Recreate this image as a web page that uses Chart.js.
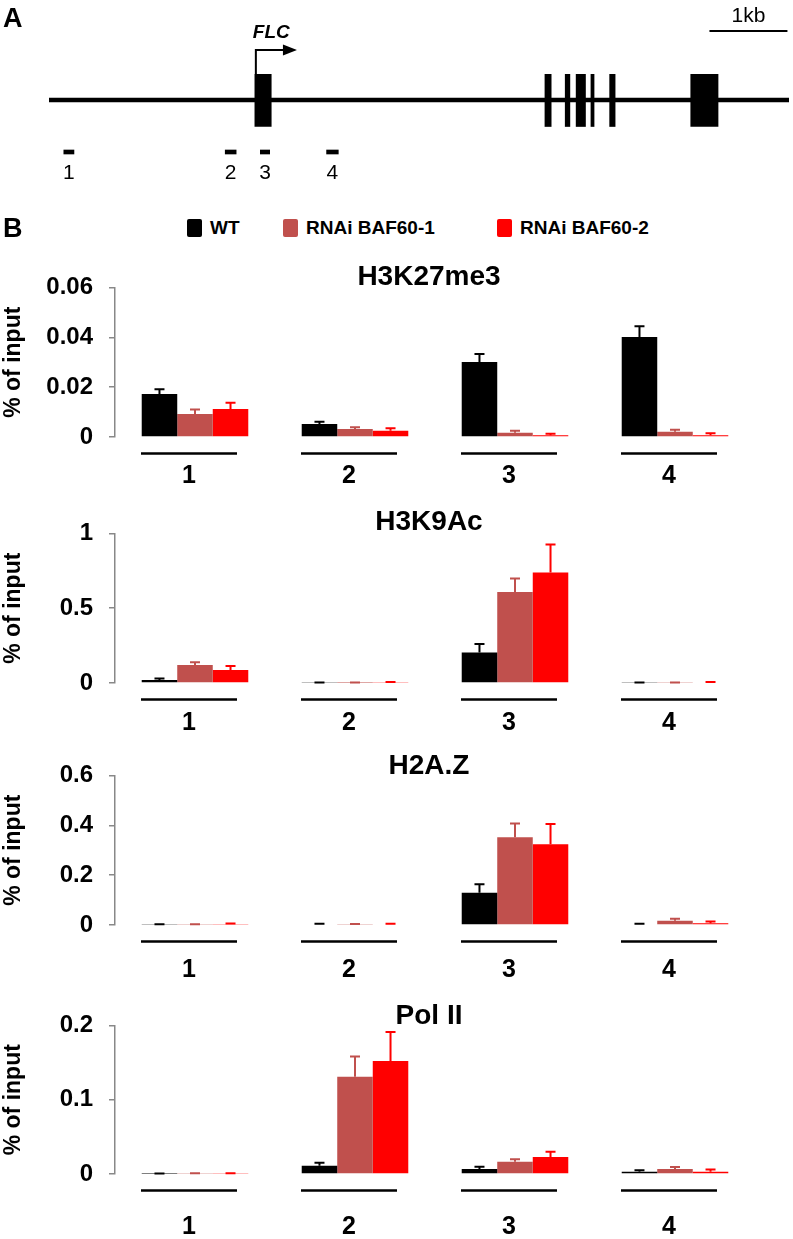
<!DOCTYPE html>
<html>
<head>
<meta charset="utf-8">
<script src="https://cdn.jsdelivr.net/npm/chart.js@4.4.1/dist/chart.umd.min.js"></script>
<style>
  body { margin: 0; width: 793px; height: 1239px; position: relative; overflow: hidden; background: #fff;
         font-family: 'Liberation Sans', Arial, sans-serif; }
  .box { position: absolute; left: 0; }
  .txt { position: absolute; color: #000; font-weight: bold; white-space: nowrap; z-index: 2; }
  .title { transform: translate(-50%, -50%); font-size: 28px; }
  .legend-item { position: absolute; top: 219px; height: 18px; display: flex; align-items: center;
                 font-weight: bold; font-size: 19px; white-space: nowrap; }
  .legend-item span.sw { display: inline-block; width: 15px; height: 18px; border-radius: 2px; margin-right: 8px; }
</style>
</head>
<body>
<div class="txt" style="left:3px;top:3px;font-size:27px">A</div>
<div class="txt" style="left:3px;top:213px;font-size:27px">B</div>
<div id="legend"></div>

<div class="box" style="top:0"><canvas id="gene" width="793" height="200"></canvas></div>
<div class="box" style="top:257px"><canvas id="c1" width="793" height="240"></canvas></div>
<div class="box" style="top:503px"><canvas id="c2" width="793" height="240"></canvas></div>
<div class="box" style="top:745px"><canvas id="c3" width="793" height="240"></canvas></div>
<div class="box" style="top:995px"><canvas id="c4" width="793" height="249"></canvas></div>

<div class="txt title" style="left:429px;top:276px">H3K27me3</div>
<div class="txt title" style="left:429px;top:521px">H3K9Ac</div>
<div class="txt title" style="left:429px;top:765px">H2A.Z</div>
<div class="txt title" style="left:429px;top:1015px">Pol II</div>

<script>
// ---- panel A: FLC locus (positions in kb from the left end of the line)
const geneLength = 9.49;
const exons = [[2.64, 2.85], [6.36, 6.44], [6.62, 6.68], [6.76, 6.88], [6.95, 6.99], [7.19, 7.26], [8.23, 8.58]];
const probes = [[0.19, 0.32], [2.26, 2.40], [2.71, 2.83], [3.56, 3.71]];
const tss = 2.64;
const arrowEnd = 3.18;
const scaleBar = [8.47, 9.47];

// ---- panel B: ChIP, % of input
const categories = ['1', '2', '3', '4'];
const seriesNames = ['WT', 'RNAi BAF60-1', 'RNAi BAF60-2'];
const seriesColors = ['#000000', '#c0504d', '#ff0000'];

const h3k27WT = [0.0172, 0.0052, 0.0301, 0.0401];
const h3k27B1 = [0.0092, 0.0032, 0.0017, 0.0021];
const h3k27B2 = [0.0112, 0.0025, 0.0007, 0.0007];
const h3k27WTErr = [0.0020, 0.0009, 0.0032, 0.0043];
const h3k27B1Err = [0.0018, 0.0007, 0.0008, 0.0008];
const h3k27B2Err = [0.0025, 0.0010, 0.0006, 0.0008];
const h3k27Ticks = [0, 0.02, 0.04, 0.06];

const h3k9WT = [0.020, 0.003, 0.204, 0.003];
const h3k9B1 = [0.120, 0.002, 0.609, 0.003];
const h3k9B2 = [0.087, 0.004, 0.738, 0.005];
const h3k9WTErr = [0.010, 0.001, 0.056, 0.001];
const h3k9B1Err = [0.018, 0.001, 0.089, 0.001];
const h3k9B2Err = [0.026, 0.002, 0.187, 0.002];
const h3k9Ticks = [0, 0.5, 1];

const h2azWT = [0.002, 0.003, 0.129, 0.003];
const h2azB1 = [0.002, 0.002, 0.352, 0.017];
const h2azB2 = [0.004, 0.003, 0.324, 0.007];
const h2azWTErr = [0.001, 0.002, 0.034, 0.002];
const h2azB1Err = [0.001, 0.002, 0.055, 0.008];
const h2azB2Err = [0.002, 0.002, 0.081, 0.007];
const h2azTicks = [0, 0.2, 0.4, 0.6];

const pol2WT = [0.0005, 0.011, 0.0067, 0.003];
const pol2B1 = [0.0008, 0.131, 0.0165, 0.0067];
const pol2B2 = [0.0008, 0.152, 0.023, 0.003];
const pol2WTErr = [0.0003, 0.004, 0.003, 0.002];
const pol2B1Err = [0.0003, 0.027, 0.0035, 0.0027];
const pol2B2Err = [0.0003, 0.039, 0.007, 0.003];
const pol2Ticks = [0, 0.1, 0.2];

const FONT = "'Liberation Sans', Arial, sans-serif";
Chart.defaults.font.family = FONT;
Chart.defaults.color = '#000';

// legend (html, same colours as the datasets)
const legendX = [187, 283, 497];
const legend = document.getElementById('legend');
seriesNames.forEach((name, i) => {
  const item = document.createElement('div');
  item.className = 'legend-item';
  item.style.left = legendX[i] + 'px';
  item.innerHTML = '<span class="sw" style="background:' + seriesColors[i] + '"></span>' + name;
  legend.appendChild(item);
});

// arrow, probe numbers, scale bar for the locus drawing
const locusExtras = {
  id: 'locusExtras',
  afterDraw(chart) {
    const { ctx, scales: { x, y } } = chart;
    const yGene = y.getPixelForValue(0);
    const yProbe = y.getPixelForValue(1);
    ctx.save();
    ctx.strokeStyle = '#000';
    ctx.fillStyle = '#000';
    ctx.lineWidth = 2;
    // TSS arrow
    const xt = x.getPixelForValue(tss) + 1;
    const xe = x.getPixelForValue(arrowEnd);
    ctx.beginPath();
    ctx.moveTo(xt, yGene - 26);
    ctx.lineTo(xt, yGene - 50);
    ctx.lineTo(xe - 13, yGene - 50);
    ctx.stroke();
    ctx.beginPath();
    ctx.moveTo(xe, yGene - 50);
    ctx.lineTo(xe - 14, yGene - 55.5);
    ctx.lineTo(xe - 14, yGene - 44.5);
    ctx.closePath();
    ctx.fill();
    ctx.font = 'italic bold 19px ' + FONT;
    ctx.textAlign = 'left';
    ctx.textBaseline = 'alphabetic';
    ctx.fillText('FLC', xt - 3, yGene - 62);
    // scale bar
    const s0 = x.getPixelForValue(scaleBar[0]);
    const s1 = x.getPixelForValue(scaleBar[1]);
    ctx.beginPath();
    ctx.moveTo(s0, 31);
    ctx.lineTo(s1, 31);
    ctx.stroke();
    ctx.font = '21px ' + FONT;
    ctx.textAlign = 'center';
    ctx.fillText('1kb', (s0 + s1) / 2, 22);
    // probe numbers
    ctx.textBaseline = 'middle';
    probes.forEach((p, i) => {
      ctx.fillText(categories[i], x.getPixelForValue((p[0] + p[1]) / 2), yProbe + 21);
    });
    ctx.restore();
  }
};

new Chart(document.getElementById('gene'), {
  type: 'bar',
  data: {
    labels: ['gene', 'probe'],
    datasets: [
      { data: [{ y: 'gene', x: [0, geneLength] }], barThickness: 4, backgroundColor: '#000', grouped: false },
      { data: exons.map(e => ({ y: 'gene', x: e })), barThickness: 53, backgroundColor: '#000', grouped: false },
      { data: probes.map(p => ({ y: 'probe', x: p })), barThickness: 4, backgroundColor: '#000', grouped: false }
    ]
  },
  plugins: [locusExtras],
  options: {
    indexAxis: 'y',
    responsive: false,
    animation: false,
    layout: { padding: { left: 49, right: 4, top: 74, bottom: 22 } },
    plugins: { legend: { display: false }, tooltip: { enabled: false } },
    scales: {
      x: { type: 'linear', min: 0, max: geneLength, display: false },
      y: { display: false }
    }
  }
});

// error bars, only the upper half, in the colour of the bar
const errorBars = {
  id: 'errorBars',
  afterDatasetsDraw(chart) {
    const { ctx, scales: { y } } = chart;
    chart.data.datasets.forEach((ds, i) => {
      chart.getDatasetMeta(i).data.forEach((bar, j) => {
        const top = y.getPixelForValue(ds.data[j] + ds.errors[j]);
        ctx.save();
        ctx.strokeStyle = ds.backgroundColor;
        ctx.lineWidth = 2;
        ctx.beginPath();
        ctx.moveTo(bar.x, bar.y);
        ctx.lineTo(bar.x, top);
        ctx.moveTo(bar.x - 5, top);
        ctx.lineTo(bar.x + 5, top);
        ctx.stroke();
        ctx.restore();
      });
    });
  }
};

// black line under each group of bars
const groupLines = {
  id: 'groupLines',
  afterDraw(chart) {
    const { ctx, chartArea, scales: { x } } = chart;
    ctx.save();
    ctx.strokeStyle = '#000';
    ctx.lineWidth = 2.5;
    categories.forEach((c, i) => {
      const cx = x.getPixelForValue(i) - 6;
      ctx.beginPath();
      ctx.moveTo(cx - 48, chartArea.bottom + 16.5);
      ctx.lineTo(cx + 48, chartArea.bottom + 16.5);
      ctx.stroke();
    });
    ctx.restore();
  }
};

function histoneChart(id, values, errors, yTicks, labelPad, xHeight) {
  const datasets = seriesNames.map((name, i) => ({
    label: name,
    data: values[i],
    errors: errors[i],
    backgroundColor: seriesColors[i],
    borderWidth: 0,
    categoryPercentage: 0.666,
    barPercentage: 1.0
  }));
  return new Chart(document.getElementById(id), {
    type: 'bar',
    data: { labels: categories, datasets: datasets },
    plugins: [errorBars, groupLines],
    options: {
      responsive: false,
      animation: false,
      layout: { padding: { top: 30, right: 38, left: 0, bottom: 0 } },
      plugins: { legend: { display: false }, tooltip: { enabled: false } },
      scales: {
        x: {
          grid: { display: false, drawTicks: false },
          border: { display: false },
          ticks: { color: '#000', font: { size: 25, weight: 'bold' }, padding: labelPad, labelOffset: -6, maxRotation: 0 },
          afterFit: s => { s.height = xHeight; }
        },
        y: {
          min: 0,
          max: yTicks[yTicks.length - 1],
          afterBuildTicks: s => { s.ticks = yTicks.map(v => ({ value: v })); },
          ticks: { color: '#000', font: { size: 24, weight: 'bold' }, padding: 16, callback: v => String(v) },
          grid: { drawOnChartArea: false, color: '#888', lineWidth: 1.5, tickLength: 6 },
          border: { color: '#888', width: 1.5 },
          title: { display: true, text: '% of input', color: '#000', font: { size: 23, weight: 'bold' }, padding: 0 },
          afterFit: s => { s.width = 115; }
        }
      }
    }
  });
}

histoneChart('c1', [h3k27WT, h3k27B1, h3k27B2], [h3k27WTErr, h3k27B1Err, h3k27B2Err], h3k27Ticks, 24, 60);
histoneChart('c2', [h3k9WT, h3k9B1, h3k9B2], [h3k9WTErr, h3k9B1Err, h3k9B2Err], h3k9Ticks, 25, 60);
histoneChart('c3', [h2azWT, h2azB1, h2azB2], [h2azWTErr, h2azB1Err, h2azB2Err], h2azTicks, 30, 60);
histoneChart('c4', [pol2WT, pol2B1, pol2B2], [pol2WTErr, pol2B1Err, pol2B2Err], pol2Ticks, 38, 70);
</script>
</body>
</html>
